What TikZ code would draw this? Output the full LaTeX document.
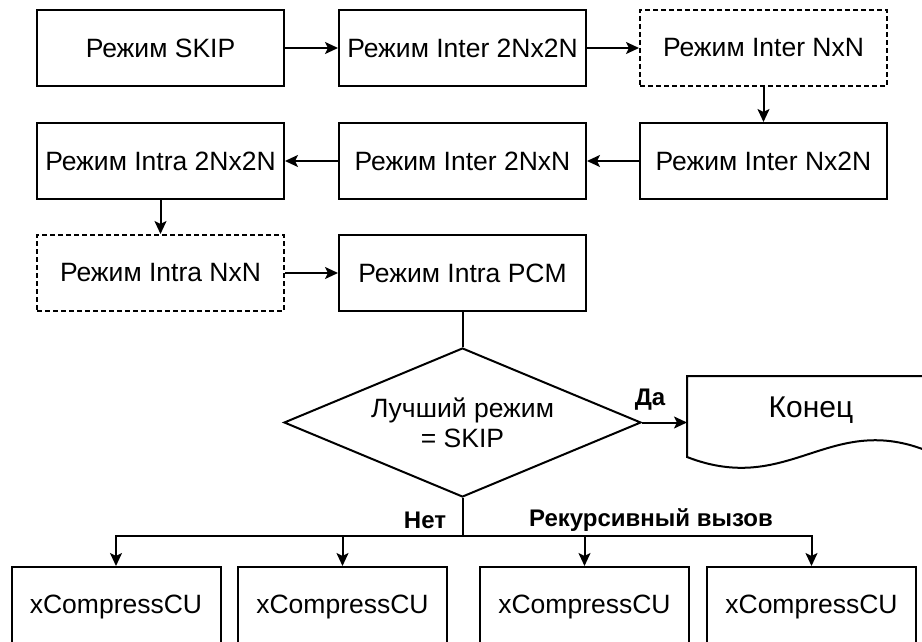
\documentclass[tikz,border=0pt]{standalone}
\usepackage{fontspec}
\setmainfont{Liberation Sans}
\usetikzlibrary{positioning,arrows.meta,shapes.geometric}

\tikzset{
  modebox/.style={draw, line width=2pt, minimum width=247pt, minimum height=76pt, inner sep=0pt},
  optbox/.style={modebox, dash pattern=on 5pt off 3pt},
  cubox/.style={draw, line width=2pt, minimum width=209pt, minimum height=80pt, inner sep=0pt},
  flow/.style={line width=2pt, -{Stealth[length=13pt,width=12pt,inset=3pt]}},
  plain/.style={line width=2pt},
  lbl/.style={font=\fontsize{24}{28}\selectfont\bfseries, inner sep=0pt}
}

\begin{document}
\begin{tikzpicture}[x=1pt, y=-1pt, font=\fontsize{26.5}{30}\selectfont]
  \useasboundingbox (0,0) rectangle (922,642);
  % First row of modes
  \node[modebox] (skip) at (160.5,48) {Режим SKIP};
  \node[modebox] (inter2n2n) at (462.5,48) {Режим Inter 2Nx2N};
  \node[optbox] (internxn) at (763.5,48) {Режим Inter NxN};
  % Second row, right to left
  \node[modebox] (internx2n) at (763.5,161) {Режим Inter Nx2N};
  \node[modebox] (inter2nxn) at (462.5,161) {Режим Inter 2NxN};
  \node[modebox] (intra2n2n) at (160.5,161) {Режим Intra 2Nx2N};
  % Third row
  \node[optbox] (intranxn) at (160.5,273) {Режим Intra NxN};
  \node[modebox] (pcm) at (462.5,273) {Режим Intra PCM};
  % Decision
  \node[diamond, draw, line width=2pt, aspect=2.4, minimum width=357pt,
    minimum height=149pt, inner sep=0pt, align=center] (best) at (462.5,422.5)
    {Лучший режим\\= SKIP};
  % End (document shape)
  \node[inner sep=0pt, font=\fontsize{30}{34}\selectfont] (konec) at (811,410) {Конец};
  \draw[plain] (930,376) -- (687,376) -- (687,457)
    .. controls (790,497) and (830,410) .. (930,452);
  \coordinate (konecin) at (687,422.5);
  % Recursive calls
  \node[cubox] (cua) at (116,607) {xCompressCU};
  \node[cubox] (cub) at (342.5,607) {xCompressCU};
  \node[cubox] (cuc) at (584.5,607) {xCompressCU};
  \node[cubox] (cud) at (811.5,607) {xCompressCU};
  \coordinate (split) at (462.5,536);
  % Labels
  \node[lbl] (yes) at (650,400) {Да};
  \node[lbl] (no) at (425,520) {Нет};
  \node[lbl] (recur) at (651,520) {Рекурсивный вызов};
  % Connectors
  \draw[flow] (skip) -- (inter2n2n);
  \draw[flow] (inter2n2n) -- (internxn);
  \draw[flow] (internxn) -- (internx2n);
  \draw[flow] (internx2n) -- (inter2nxn);
  \draw[flow] (inter2nxn) -- (intra2n2n);
  \draw[flow] (intra2n2n) -- (intranxn);
  \draw[flow] (intranxn) -- (pcm);
  \draw[plain] (pcm) -- (best);
  \draw[flow] (best.east) -- (konecin);
  \draw[plain] (best.south) -- (split);
  \foreach \cu in {cua,cub,cuc,cud}
    \draw[flow] (split) -| (\cu.north);
\end{tikzpicture}
\end{document}
